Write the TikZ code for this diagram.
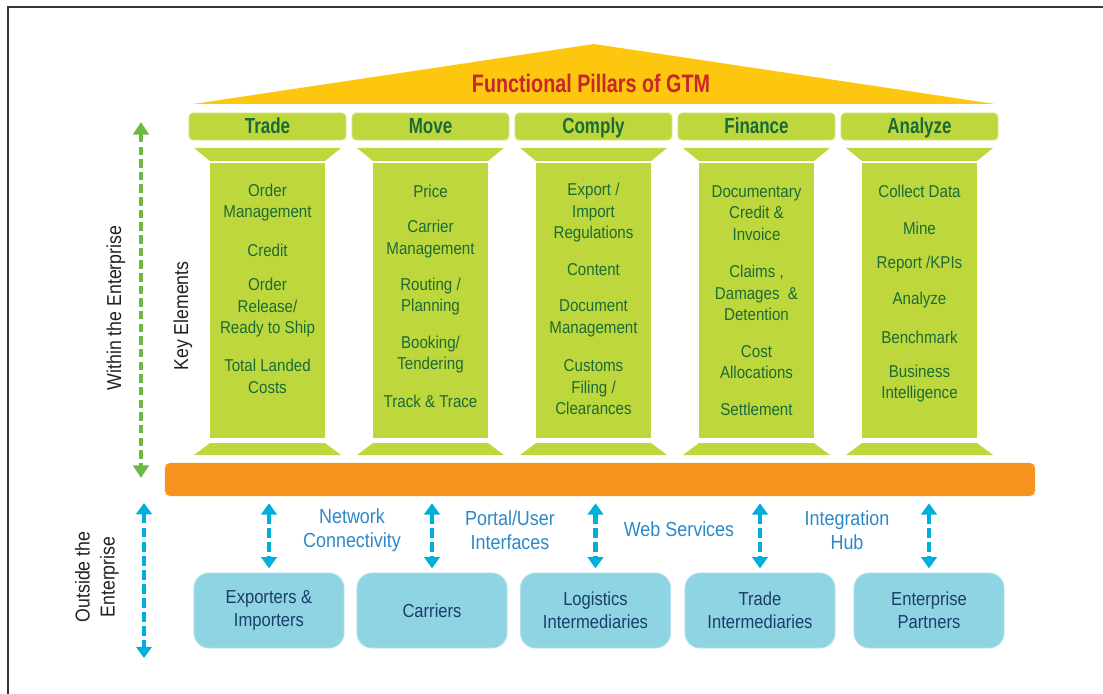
\documentclass[tikz,border=0pt]{standalone}
\usepackage{fontspec}
\setmainfont{Liberation Sans}[FakeStretch=0.88]
\newfontfamily\headfont{Liberation Sans}[FakeStretch=0.78]
\usetikzlibrary{arrows.meta}
\definecolor{leaf}{HTML}{BED73C}
\definecolor{leafedge}{HTML}{D6E78F}
\definecolor{pine}{HTML}{1B6B37}
\definecolor{roof}{HTML}{FDC70F}
\definecolor{gtmred}{HTML}{C9252C}
\definecolor{plinth}{HTML}{F7941E}
\definecolor{sky}{HTML}{8FD4E2}
\definecolor{skyedge}{HTML}{B3E2EC}
\definecolor{navy}{HTML}{1C3D6B}
\definecolor{cyanline}{HTML}{00AEDB}
\definecolor{linkblue}{HTML}{2C89C9}
\definecolor{grass}{HTML}{6BB944}
\definecolor{ink}{HTML}{231F20}
% capital, shaft and base of one pillar, centred at x=#1
\def\pillar(#1){%
  \fill[leaf] (#1-73.5,148) -- (#1+73.5,148) -- (#1+57.5,161) -- (#1-57.5,161) -- cycle;
  \fill[leaf] (#1-57.5,163) rectangle (#1+57.5,438);
  \fill[leaf] (#1-57.5,443) -- (#1+57.5,443) -- (#1+73.5,455) -- (#1-73.5,455) -- cycle;}

\begin{document}
\begin{tikzpicture}[x=0.025cm, y=-0.025cm,
    head/.style={fill=leaf, draw=leafedge, line width=0.6pt, rounded corners=1mm,
      minimum width=39.25mm, minimum height=6.75mm, inner sep=0pt, text=pine,
      text height=11.5pt, text depth=1.5pt,
      font=\headfont\bfseries\fontsize{15.5}{18}\selectfont},
    elem/.style={align=center, inner sep=0pt, text=pine,
      font=\fontsize{12.2}{15.3}\selectfont},
    party/.style={fill=sky, draw=skyedge, line width=0.6pt, rounded corners=3.75mm,
      minimum width=37.5mm, minimum height=18.75mm, align=center, text=navy,
      font=\fontsize{13.4}{16.4}\selectfont},
    link/.style={align=center, inner sep=0pt, text=linkblue,
      font=\fontsize{14.5}{17}\selectfont},
    side/.style={rotate=90, align=center, inner sep=0pt, text=ink,
      font=\fontsize{14.3}{17.8}\selectfont},
    cyanarrow/.style={draw=cyanline, line width=3pt, dash pattern=on 7pt off 3pt,
      arrows={Triangle[width=11pt,length=8pt]-Triangle[width=11pt,length=8pt]}},
    greenarrow/.style={draw=grass, line width=2.5pt, dash pattern=on 6pt off 3pt,
      arrows={Triangle[width=11pt,length=9pt]-Triangle[width=11pt,length=9pt]}}]
  \useasboundingbox (0,0) rectangle (1103,694);
  %%%%% FRAME %%%%%
  \draw[line width=1.5pt, ink!90] (8,694) -- (8,7) -- (1103,7);

  %%%%% ROOF %%%%%
  \fill[roof] (193,104) -- (594,44) -- (995,104) -- cycle;
  \node[text=gtmred, font=\headfont\bfseries\fontsize{18}{20}\selectfont] (gtm) at (591,83) {Functional Pillars of GTM};

  %%%%% PILLARS %%%%%
  \node[head] (trade) at (267.5,126.5) {Trade};
  \node[head] (move) at (430.5,126.5) {Move};
  \node[head] (comply) at (593.5,126.5) {Comply};
  \node[head] (finance) at (756.5,126.5) {Finance};
  \node[head] (analyze) at (919.5,126.5) {Analyze};
  \pillar(267.5) \pillar(430.5) \pillar(593.5) \pillar(756.5) \pillar(919.5)

  \node[elem] (trade1) at (267.5,202.5) {Order\\Management};
  \node[elem] (trade2) at (267.5,250) {Credit};
  \node[elem] (trade3) at (267.5,308) {Order\\Release/\\Ready to Ship};
  \node[elem] (trade4) at (267.5,376.5) {Total Landed\\Costs};

  \node[elem] (move1) at (430.5,191) {Price};
  \node[elem] (move2) at (430.5,239) {Carrier\\Management};
  \node[elem] (move3) at (430.5,296.5) {Routing /\\Planning};
  \node[elem] (move4) at (430.5,354.5) {Booking/\\Tendering};
  \node[elem] (move5) at (430.5,401) {Track \& Trace};

  \node[elem] (comply1) at (593.5,213) {Export /\\Import\\Regulations};
  \node[elem] (comply2) at (593.5,270) {Content};
  \node[elem] (comply3) at (593.5,318.5) {Document\\Management};
  \node[elem] (comply4) at (593.5,387.5) {Customs\\Filing /\\Clearances};

  \node[elem] (finance1) at (756.5,213) {Documentary\\Credit \&\\Invoice};
  \node[elem] (finance2) at (756.5,293) {Claims ,\\Damages \ \&\\Detention};
  \node[elem] (finance3) at (756.5,362) {Cost\\Allocations};
  \node[elem] (finance4) at (756.5,409) {Settlement};

  \node[elem] (analyze1) at (919.5,191) {Collect Data};
  \node[elem] (analyze2) at (919.5,228) {Mine};
  \node[elem] (analyze3) at (919.5,264) {Report /KPIs};
  \node[elem] (analyze4) at (919.5,300) {Analyze};
  \node[elem] (analyze5) at (919.5,337) {Benchmark};
  \node[elem] (analyze6) at (919.5,383.5) {Business\\Intelligence};

  %%%%% PLINTH %%%%%
  \node[fill=plinth, rounded corners=1.25mm, minimum width=217.5mm, minimum height=8.25mm, inner sep=0pt] (bar) at (600,479.5) {};

  %%%%% OUTSIDE %%%%%
  \node[party] (exp) at (269,610.5) {Exporters \&\\Importers};
  \node[party] (car) at (432,610.5) {Carriers};
  \node[party] (logi) at (595.5,610.5) {Logistics\\Intermediaries};
  \node[party] (tint) at (760,610.5) {Trade\\Intermediaries};
  \node[party] (ent) at (929,610.5) {Enterprise\\Partners};

  \foreach \b in {exp,car,logi,tint,ent}
    \draw[cyanarrow, shorten <=5pt, shorten >=3pt] (bar.south -| \b.north) -- (\b.north);

  \node[link] (net) at (352,530) {Network\\Connectivity};
  \node[link] (portal) at (510,530) {Portal/User\\Interfaces};
  \node[link] (web) at (679,529) {Web Services};
  \node[link] (hub) at (847,530) {Integration\\Hub};

  %%%%% SIDE LABELS %%%%%
  \coordinate (wtop) at (141,122);
  \coordinate (wbot) at (141,478);
  \draw[greenarrow] (wtop) -- (wbot);
  \coordinate (otop) at (144,503);
  \coordinate (obot) at (144,658);
  \draw[cyanarrow] (otop) -- (obot);

  \node[side] (within) at (116,308) {Within the Enterprise};
  \node[side] (keys) at (183,316) {Key Elements};
  \node[side] (outside) at (97,577) {Outside the\\Enterprise};
\end{tikzpicture}
\end{document}
